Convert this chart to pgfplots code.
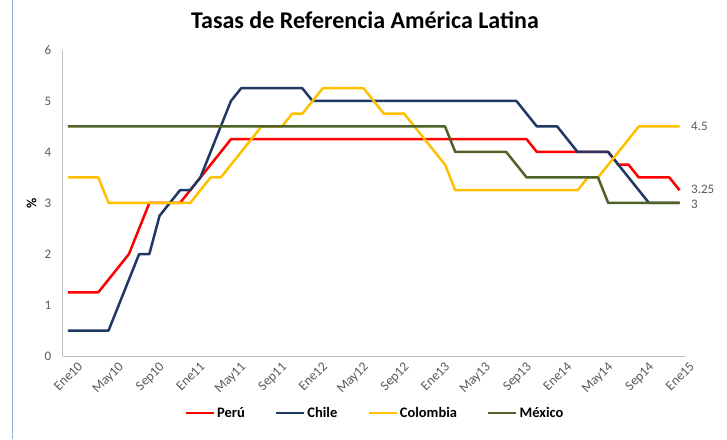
\documentclass[border=0pt]{standalone}
\usepackage{pgfplots}
\pgfplotsset{compat=1.18}
\usepackage{pgfplotstable}
\usepackage{fontspec}
\setmainfont{Carlito}
\definecolor{peru}{HTML}{FF0000}
\definecolor{chile}{HTML}{1F3864}
\definecolor{colom}{HTML}{FFC000}
\definecolor{mexi}{HTML}{4F6228}
\definecolor{tickgray}{HTML}{595959}
\definecolor{axgray}{HTML}{BFBFBF}
\definecolor{frameblue}{HTML}{8EB4E3}
\pgfplotstableread{
i peru chile col mex
0 1.25 0.5 3.5 4.5
1 1.25 0.5 3.5 4.5
2 1.25 0.5 3.5 4.5
3 1.25 0.5 3.5 4.5
4 1.5 0.5 3.0 4.5
5 1.75 1.0 3.0 4.5
6 2.0 1.5 3.0 4.5
7 2.5 2.0 3.0 4.5
8 3.0 2.0 3.0 4.5
9 3.0 2.75 3.0 4.5
10 3.0 3.0 3.0 4.5
11 3.0 3.25 3.0 4.5
12 3.25 3.25 3.0 4.5
13 3.5 3.5 3.25 4.5
14 3.75 4.0 3.5 4.5
15 4.0 4.5 3.5 4.5
16 4.25 5.0 3.75 4.5
17 4.25 5.25 4.0 4.5
18 4.25 5.25 4.25 4.5
19 4.25 5.25 4.5 4.5
20 4.25 5.25 4.5 4.5
21 4.25 5.25 4.5 4.5
22 4.25 5.25 4.75 4.5
23 4.25 5.25 4.75 4.5
24 4.25 5.0 5.0 4.5
25 4.25 5.0 5.25 4.5
26 4.25 5.0 5.25 4.5
27 4.25 5.0 5.25 4.5
28 4.25 5.0 5.25 4.5
29 4.25 5.0 5.25 4.5
30 4.25 5.0 5.0 4.5
31 4.25 5.0 4.75 4.5
32 4.25 5.0 4.75 4.5
33 4.25 5.0 4.75 4.5
34 4.25 5.0 4.5 4.5
35 4.25 5.0 4.25 4.5
36 4.25 5.0 4.0 4.5
37 4.25 5.0 3.75 4.5
38 4.25 5.0 3.25 4.0
39 4.25 5.0 3.25 4.0
40 4.25 5.0 3.25 4.0
41 4.25 5.0 3.25 4.0
42 4.25 5.0 3.25 4.0
43 4.25 5.0 3.25 4.0
44 4.25 5.0 3.25 3.75
45 4.25 4.75 3.25 3.5
46 4.0 4.5 3.25 3.5
47 4.0 4.5 3.25 3.5
48 4.0 4.5 3.25 3.5
49 4.0 4.25 3.25 3.5
50 4.0 4.0 3.25 3.5
51 4.0 4.0 3.5 3.5
52 4.0 4.0 3.5 3.5
53 4.0 4.0 3.75 3.0
54 3.75 3.75 4.0 3.0
55 3.75 3.5 4.25 3.0
56 3.5 3.25 4.5 3.0
57 3.5 3.0 4.5 3.0
58 3.5 3.0 4.5 3.0
59 3.5 3.0 4.5 3.0
60 3.25 3.0 4.5 3.0
}\datatable
\begin{document}
\begin{tikzpicture}[x=1pt,y=1pt]
\path[use as bounding box] (0,0) rectangle (727,439);
\draw[frameblue, line width=1pt] (12,0) -- (12,439);
\begin{axis}[
  at={(62.7pt,83pt)}, anchor=south west,
  scale only axis, width=622pt, height=306pt,
  xmin=-0.5, xmax=60.5, ymin=0, ymax=6,
  axis x line*=bottom, axis y line*=left,
  axis line style={axgray, line width=0.8pt},
  x axis line style={-}, y axis line style={-},
  xtick={0,4,...,60},
  xticklabels={Ene10,May10,Sep10,Ene11,May11,Sep11,Ene12,May12,Sep12,Ene13,May13,Sep13,Ene14,May14,Sep14,Ene15},
  ytick={0,1,...,6},
  major tick length=0pt,
  tick label style={font=\fontsize{13}{15}\selectfont, text=tickgray},
  xticklabel style={font=\fontsize{13.5}{15}\selectfont, rotate=45, anchor=north east, inner sep=1pt, yshift=-9pt, xshift=4pt},
  yticklabel style={xshift=-8pt},
  /pgf/number format/assume math mode=true,
  clip=false,
  legend columns=4,
  legend style={at={(0.502,-0.186)}, anchor=center, draw=none, fill=none,
    font=\fontsize{14.5}{16}\selectfont\bfseries,
    /tikz/every even column/.append style={column sep=28pt}},
  legend image code/.code={\draw[#1, line width=2.6pt] (0pt,0pt) -- (28pt,0pt);},
  every axis plot/.append style={line width=2.5pt, line join=round},
]
\addplot[peru, no marks] table[x=i, y=peru] {\datatable};
\addlegendentry{Perú}
\addplot[chile, no marks] table[x=i, y=chile] {\datatable};
\addlegendentry{Chile}
\addplot[colom, no marks] table[x=i, y=col] {\datatable};
\addlegendentry{Colombia}
\addplot[mexi, no marks] table[x=i, y=mex] {\datatable};
\addlegendentry{México}
\node[anchor=west, text=tickgray, font=\fontsize{13}{15}\selectfont] at ([xshift=3pt]axis cs:60.5,4.5) {4.5};
\node[anchor=west, text=tickgray, font=\fontsize{13}{15}\selectfont] at ([xshift=3pt]axis cs:60.5,3.27) {3.25};
\node[anchor=west, text=tickgray, font=\fontsize{13}{15}\selectfont] at ([xshift=3pt]axis cs:60.5,2.97) {3};
\node[rotate=90, font=\fontsize{14}{16}\selectfont\bfseries] at ([xshift=-31pt]rel axis cs:0,0.5) {\%};
\node[font=\fontsize{24}{28}\selectfont\bfseries] at ([yshift=30pt]rel axis cs:0.486,1) {Tasas de Referencia América Latina};
\end{axis}
\end{tikzpicture}
\end{document}
